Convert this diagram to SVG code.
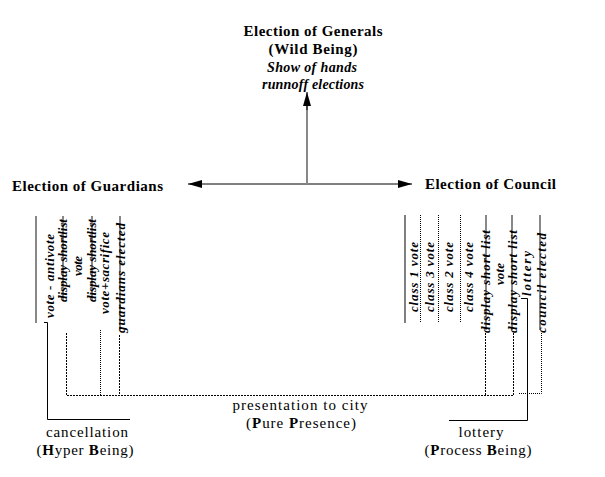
<svg xmlns="http://www.w3.org/2000/svg" width="605" height="477" viewBox="0 0 605 477">
<style>
.h{font-family:"Liberation Serif","Times New Roman",serif;font-weight:bold;font-size:15px;fill:#000}
.n{font-family:"Liberation Serif","Times New Roman",serif;font-size:15px;fill:#000}
.hi{font-family:"Liberation Serif","Times New Roman",serif;font-weight:bold;font-style:italic;font-size:14px;fill:#000}
.v{font-family:"Liberation Serif","Times New Roman",serif;font-weight:bold;font-style:italic;font-size:13px;fill:#000}
.b{font-weight:bold}
.g{stroke:#888;stroke-width:2;fill:none}
.k{stroke:#000;stroke-width:1;fill:none}
.d{stroke:#000;stroke-width:1;stroke-dasharray:2 1;fill:none}
.o{stroke:#000;stroke-width:1;stroke-dasharray:1 1;fill:none}
</style>
<defs>
<marker id="ah" markerWidth="14" markerHeight="8" refX="14" refY="4" orient="auto-start-reverse" markerUnits="userSpaceOnUse">
<path d="M0,0 L14,4 L0,8 z" fill="#000"/>
</marker>
</defs>

<g id="generals">
<text class="h" x="313" y="36" text-anchor="middle" textLength="139">Election of Generals</text>
<text class="h" x="313" y="54" text-anchor="middle" textLength="89">(Wild Being)</text>
<text class="hi" x="312" y="72" text-anchor="middle" textLength="90">Show of hands</text>
<text class="hi" x="313" y="89" text-anchor="middle" textLength="102">runnoff elections</text>
</g>

<g id="guardians">
<text class="h" x="12" y="191" textLength="151">Election of Guardians</text>
<line class="g" x1="36" y1="216" x2="36" y2="323"/>
<text class="v" transform="translate(54,318) rotate(-90)" textLength="84">vote - antivote</text>
<line class="g" x1="63" y1="216" x2="63" y2="300"/>
<text class="v" transform="translate(67,302) rotate(-90)" textLength="83">display shortlist</text>
<text class="v" transform="translate(82,276) rotate(-90)" textLength="20">vote</text>
<line class="g" x1="92" y1="216" x2="92" y2="300"/>
<text class="v" transform="translate(96,302) rotate(-90)" textLength="83">display shortlist</text>
<text class="v" transform="translate(109,314) rotate(-90)" textLength="82">vote+sacrifice</text>
<line class="g" x1="120" y1="216" x2="120" y2="330"/>
<text class="v" transform="translate(125,333) rotate(-90)" textLength="110">guardians elected</text>
</g>

<g id="council">
<text class="h" x="425" y="189" textLength="131">Election of Council</text>
<line class="k" x1="405" y1="215" x2="405" y2="323"/>
<text class="v" transform="translate(418,312) rotate(-90)" textLength="70">class 1 vote</text>
<line class="o" x1="420.5" y1="215" x2="420.5" y2="322"/>
<text class="v" transform="translate(434,312) rotate(-90)" textLength="70">class 3 vote</text>
<line class="o" x1="438.5" y1="215" x2="438.5" y2="322"/>
<text class="v" transform="translate(453,312) rotate(-90)" textLength="70">class 2 vote</text>
<line class="o" x1="460.5" y1="215" x2="460.5" y2="322"/>
<text class="v" transform="translate(473,312) rotate(-90)" textLength="70">class 4 vote</text>
<line class="g" x1="486" y1="215" x2="486" y2="330"/>
<text class="v" transform="translate(490,333) rotate(-90)" textLength="103">display short list</text>
<text class="v" transform="translate(504,285) rotate(-90)" textLength="22">vote</text>
<line class="g" x1="512" y1="215" x2="512" y2="330"/>
<text class="v" transform="translate(517,333) rotate(-90)" textLength="103">display short list</text>
<text class="v" transform="translate(531,296) rotate(-90)" textLength="45">lottery</text>
<line class="g" x1="540" y1="215" x2="540" y2="330"/>
<text class="v" transform="translate(546,333) rotate(-90)" textLength="100">council elected</text>
</g>

<g id="presentation">
<text class="n" x="300" y="410" text-anchor="middle" textLength="135">presentation to city</text>
<text class="n" x="301" y="428" text-anchor="middle" textLength="110">(<tspan class="b">P</tspan>ure <tspan class="b">P</tspan>resence)</text>
</g>

<g id="cancellation">
<text class="n" x="87" y="437" text-anchor="middle" textLength="82">cancellation</text>
<text class="n" x="85" y="455" text-anchor="middle" textLength="97">(<tspan class="b">H</tspan>yper <tspan class="b">B</tspan>eing)</text>
</g>

<g id="lottery">
<text class="n" x="481" y="437" text-anchor="middle" textLength="45">lottery</text>
<text class="n" x="478" y="455" text-anchor="middle" textLength="107">(<tspan class="b">P</tspan>rocess <tspan class="b">B</tspan>eing)</text>
</g>

<g id="connectors">
<line class="k" x1="188" y1="184" x2="412" y2="184" marker-start="url(#ah)" marker-end="url(#ah)"/>
<line class="g" x1="307" y1="184" x2="307" y2="100"/>
<line class="k" x1="307" y1="110" x2="307" y2="92" marker-end="url(#ah)"/>
<path class="k" d="M44,322.5 H47.5 V419.5 H130"/>
<path class="d" d="M66.5,333 V395.5 H513.5 V333"/>
<line class="o" x1="100.5" y1="330" x2="100.5" y2="395"/>
<line class="d" x1="119.5" y1="335" x2="119.5" y2="395"/>
<line class="d" x1="485.5" y1="333" x2="485.5" y2="395"/>
<path class="o" d="M541.5,333 V393.5 H518"/>
<path class="k" d="M521,298.5 H527.5 V420.5 H449"/>
</g>
</svg>
